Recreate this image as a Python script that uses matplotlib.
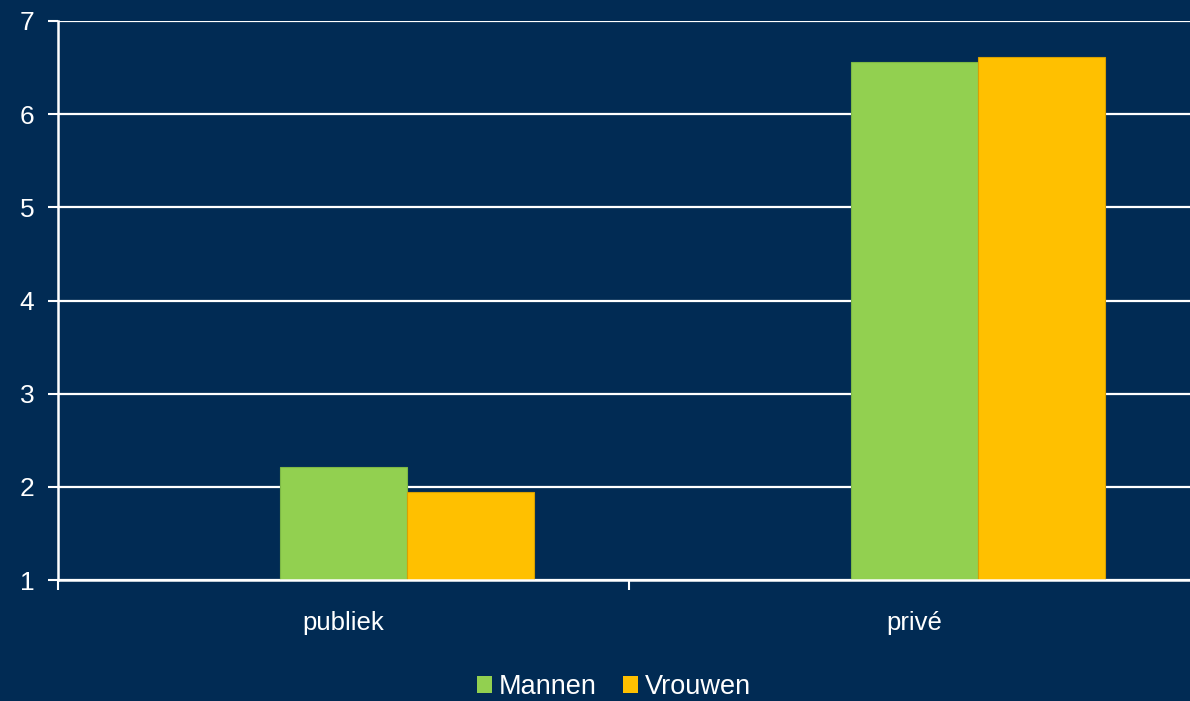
import numpy as np
import matplotlib.pyplot as plt

categories = ["publiek", "privé"]
mannen = [2.21, 6.56]
vrouwen = [1.94, 6.61]
series_names = ["Mannen", "Vrouwen"]

bg = "#012B54"
green = "#92D050"
yellow = "#FFC000"

plt.rcParams['font.family'] = ['Liberation Sans', 'DejaVu Sans']

fig = plt.figure(figsize=(11.9, 7.01), dpi=100, facecolor=bg)
ax = fig.add_axes([58 / 1190, 121 / 701, 1142 / 1190, 559 / 701])
ax.set_facecolor(bg)

x = np.arange(len(categories))
width = 127 / 571
base = 1
ax.bar(x, np.array(mannen) - base, width, bottom=base, color=green, edgecolor="#7DB845",
       linewidth=0.8, label=series_names[0], zorder=3)
ax.bar(x + width, np.array(vrouwen) - base, width, bottom=base, color=yellow, edgecolor="#D9A000",
       linewidth=0.8, label=series_names[1], zorder=3)

ax.set_xlim(-0.5, 1.5)
ax.set_ylim(1, 7)
ax.set_yticks(range(1, 8))
ax.yaxis.grid(True, color="white", linewidth=1.6, zorder=1)
ax.set_axisbelow(True)

ax.set_xticks([-0.5, 0.5, 1.5])
ax.set_xticklabels([])
ax.set_xticks(x, minor=True)
ax.set_xticklabels(categories, minor=True)
ax.tick_params(axis="x", which="minor", length=0, pad=22, labelsize=18.5, labelcolor="white")
ax.tick_params(axis="x", which="major", length=7, width=1.5, color="white")
ax.tick_params(axis="y", length=7, width=1.5, color="white", labelsize=19, labelcolor="white", pad=10)

for side in ["top", "right"]:
    ax.spines[side].set_visible(False)
for side in ["left", "bottom"]:
    ax.spines[side].set_color("white")
    ax.spines[side].set_linewidth(1.8)
ax.spines["bottom"].set_zorder(4)

leg = fig.legend(loc="center", bbox_to_anchor=(614 / 1190, 1 - 687 / 701), ncol=2, frameon=False,
                 fontsize=19.5, handlelength=0.55, handleheight=0.55, handletextpad=0.25,
                 columnspacing=1.0, labelcolor="white")
for h in leg.legend_handles:
    h.set_linewidth(0)

fig.savefig("out.png", dpi=100, facecolor=bg)
